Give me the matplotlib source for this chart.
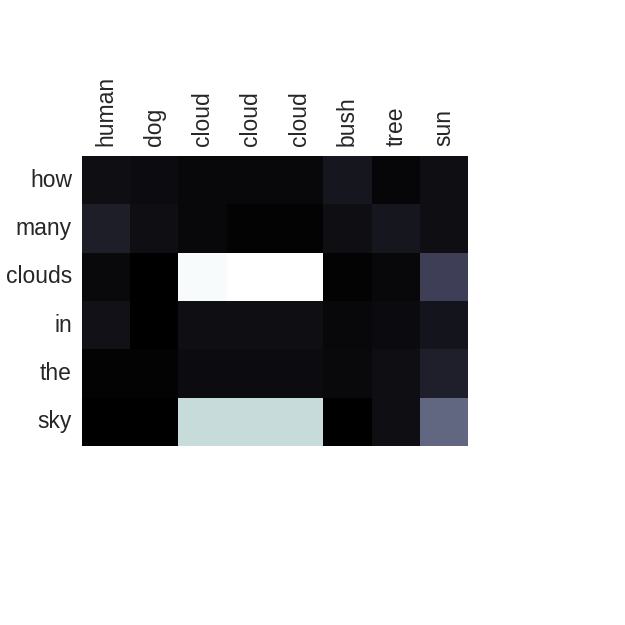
import numpy as np
import matplotlib
matplotlib.use("Agg")
import matplotlib.pyplot as plt
import seaborn as sns

# image regions (columns) and question words (rows)
regions = ["human", "dog", "cloud", "cloud", "cloud", "bush", "tree", "sun"]
words = ["how", "many", "clouds", "in", "the", "sky"]

# attention weights
row_how = [0.063, 0.054, 0.036, 0.036, 0.036, 0.099, 0.030, 0.063]
row_many = [0.134, 0.063, 0.036, 0.013, 0.013, 0.063, 0.099, 0.063]
row_clouds = [0.040, 0.000, 0.977, 1.000, 1.000, 0.013, 0.036, 0.278]
row_in = [0.080, 0.000, 0.063, 0.063, 0.063, 0.036, 0.050, 0.090]
row_the = [0.013, 0.013, 0.054, 0.054, 0.054, 0.040, 0.063, 0.140]
row_sky = [0.000, 0.000, 0.838, 0.838, 0.838, 0.000, 0.063, 0.436]

att = np.array([row_how, row_many, row_clouds, row_in, row_the, row_sky])

sns.set_style("white")
plt.rcParams["font.family"] = ["Liberation Sans", "DejaVu Sans"]

fig = plt.figure(figsize=(6.25, 6.25), dpi=100)
ax = fig.add_axes([81 / 625, 1 - 446 / 625, 388 / 625, 290 / 625])
sns.heatmap(att, cmap="bone", vmin=0, vmax=1, cbar=False, square=True,
            xticklabels=regions, yticklabels=words, ax=ax)
ax.xaxis.tick_top()
ax.tick_params(length=0, labelsize=16.5, pad=7)
plt.setp(ax.get_xticklabels(), rotation=90)
plt.setp(ax.get_yticklabels(), rotation=0)

fig.savefig("out.png", dpi=100)
